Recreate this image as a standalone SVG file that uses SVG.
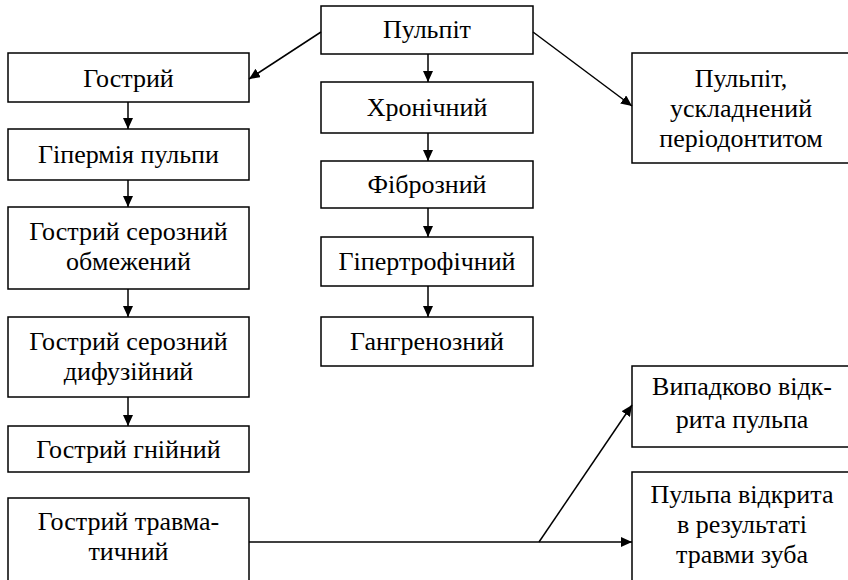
<svg xmlns="http://www.w3.org/2000/svg" width="848" height="580" viewBox="0 0 848 580">
<style>
rect{fill:#fff;stroke:#000;stroke-width:1.5}
text{font-family:'Liberation Serif','Times New Roman','DejaVu Serif',serif;font-size:26px;fill:#000;text-anchor:middle}
.c line{stroke:#000;stroke-width:1.5;marker-end:url(#ah)}
</style>
<defs>
<marker id="ah" markerWidth="12" markerHeight="10" refX="11" refY="5" orient="auto" markerUnits="userSpaceOnUse">
<path d="M0,0 L11,5 L0,10 Z" fill="#000"/>
</marker>
</defs>
<rect x="0" y="0" width="848" height="580" style="stroke:none"/>
<g id="pulpit"><rect x="321" y="6" width="212" height="48"/><text x="427" y="38">Пульпіт</text></g>
<g id="khronichnyi"><rect x="321" y="82" width="212" height="51"/><text x="427" y="116">Хронічний</text></g>
<g id="fibroznyi"><rect x="321" y="161" width="212" height="47"/><text x="427" y="193">Фіброзний</text></g>
<g id="hipertrofichnyi"><rect x="321" y="237" width="212" height="49"/><text x="427" y="270">Гіпертрофічний</text></g>
<g id="hanhrenoznyi"><rect x="321" y="317" width="212" height="49"/><text x="427" y="350">Гангренозний</text></g>
<g id="hostryi"><rect x="8" y="53" width="241" height="49"/><text x="128.5" y="87">Гострий</text></g>
<g id="hiperemia"><rect x="8" y="129" width="241" height="51"/><text x="128.5" y="163">Гіпермія пульпи</text></g>
<g id="seroznyi-obmezhenyi"><rect x="8" y="207" width="241" height="82"/><text x="128.5" y="240">Гострий серозний</text><text x="128.5" y="270">обмежений</text></g>
<g id="seroznyi-dyfuziinyi"><rect x="8" y="317" width="241" height="80"/><text x="128.5" y="350">Гострий серозний</text><text x="128.5" y="380">дифузійний</text></g>
<g id="hniinyi"><rect x="8" y="426" width="241" height="46"/><text x="128.5" y="458">Гострий гнійний</text></g>
<g id="travmatychnyi"><rect x="8" y="498" width="241" height="95"/><text x="128.5" y="530">Гострий травма-</text><text x="128.5" y="560">тичний</text></g>
<g id="uskladnenyi"><rect x="632" y="53" width="219" height="110"/><text x="741" y="87">Пульпіт,</text><text x="741" y="117">ускладнений</text><text x="741" y="147">періодонтитом</text></g>
<g id="vypadkovo"><rect x="632" y="366" width="219" height="81"/><text x="742" y="395">Випадково відк-</text><text x="742" y="428">рита пульпа</text></g>
<g id="travma-zuba"><rect x="632" y="472" width="219" height="120"/><text x="742" y="503">Пульпа відкрита</text><text x="742" y="533">в результаті</text><text x="742" y="563">травми зуба</text></g>
<g class="c" id="connectors">
<line x1="321" y1="32" x2="249" y2="79"/>
<line x1="533" y1="32" x2="632" y2="106"/>
<line x1="428" y1="54" x2="428" y2="82"/>
<line x1="428" y1="133" x2="428" y2="161"/>
<line x1="428" y1="208" x2="428" y2="237"/>
<line x1="428" y1="286" x2="428" y2="317"/>
<line x1="128" y1="102" x2="128" y2="129"/>
<line x1="128" y1="180" x2="128" y2="207"/>
<line x1="128" y1="289" x2="128" y2="317"/>
<line x1="128" y1="397" x2="128" y2="426"/>
<line x1="249" y1="542" x2="632" y2="542"/>
<line x1="539" y1="542" x2="632" y2="405"/>
</g>
</svg>
